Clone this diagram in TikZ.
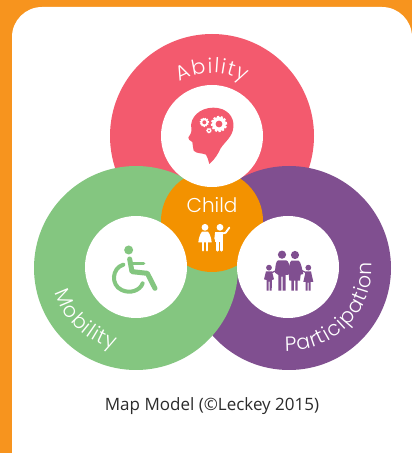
\documentclass[tikz,border=0pt]{standalone}
\usepackage{fontspec}
\usetikzlibrary{decorations.text}
\setmainfont{Open Sans}
\newfontfamily\lab[UprightFont=* Light]{Poppins}
\definecolor{frame}{HTML}{F7941E}
\definecolor{redc}{HTML}{F35A6E}
\definecolor{greenc}{HTML}{84C680}
\definecolor{purplec}{HTML}{804F90}
\definecolor{childc}{HTML}{F39200}
\definecolor{captionc}{HTML}{2B2B2B}
\tikzset{
  ringlabel/.style n args={2}{decorate,decoration={text along path,text align={fit to path},
    text={|\fontsize{#1}{#1}\lab\color{white}|#2}}},
  iconline/.style={line cap=round,line join=round},
}
\begin{document}
\begin{tikzpicture}[x=1pt,y=1pt]
\useasboundingbox (0,0) rectangle (412,453);
\fill[frame] (0,0) rectangle (412,453);
% white panel
\fill[white] (12,-5) -- (12,416) arc[start angle=180,end angle=90,radius=30pt] -- (382,446) arc[start angle=90,end angle=0,radius=30pt] -- (412,-5) -- cycle;
% rings
\fill[redc] (212,317) circle[radius=102pt];
\fill[purplec] (289,185) circle[radius=102pt];
\fill[greenc] (136,185) circle[radius=102pt];
\fill[childc] (212,232) circle[radius=51pt];
\fill[white] (212,317) circle[radius=51pt];
\fill[white] (136,186) circle[radius=51pt];
\fill[white] (288,186) circle[radius=51pt];
% ring labels
\path[ringlabel={20.5}{Ability}] (212,317) ++(121:63pt) arc[start angle=121,end angle=59,radius=63pt];
\path[ringlabel={20.5}{Mobility}] (136,186) ++(197:85pt) arc[start angle=197,end angle=255,radius=85pt];
\path[ringlabel={20.5}{Participation}] (288,186) ++(268:84pt) arc[start angle=268,end angle=363,radius=84pt];
\node[text=white,font=\fontsize{20}{20}\lab] (child) at (212,248) {Child};
% caption
\node[text=captionc,font=\fontsize{17}{18}\selectfont] (caption) at (212,47) {Map Model (©Leckey 2015)};
% head with gears
\begin{scope}[shift={(150,413)},x=0.3333pt,y=-0.3333pt]
\fill[redc] (178,372) .. controls (174,358) and (172,350) .. (168,344)
  .. controls (155,338) and (140,342) .. (131,332)
  .. controls (127,322) and (130,314) .. (127,306)
  .. controls (120,302) and (114,298) .. (115,293)
  .. controls (120,284) and (126,278) .. (124,266)
  .. controls (118,232) and (150,203) .. (190,203)
  .. controls (230,203) and (254,230) .. (250,262)
  .. controls (248,290) and (225,305) .. (212,325)
  .. controls (205,340) and (195,358) .. (178,372) -- cycle;
\draw[white,line width=2.4pt,dash pattern=on 2pt off 1.6pt] (207,252) circle[radius=7pt];
\fill[white] (207,252) circle[radius=7pt];
\fill[redc] (207,252) circle[radius=3.4pt];
\draw[white,line width=1.6pt,dash pattern=on 1.2pt off 1pt] (163,247) circle[radius=4pt];
\fill[white] (163,247) circle[radius=4pt];
\fill[redc] (163,247) circle[radius=2pt];
\draw[white,line width=1.2pt,dash pattern=on 0.8pt off 0.7pt] (177,272) circle[radius=2.2pt];
\fill[white] (177,272) circle[radius=2.2pt];
\fill[redc] (177,272) circle[radius=1pt];
\end{scope}
% child icon
\begin{scope}[shift={(160,283)},x=0.3333pt,y=-0.3333pt,white]
\fill (135,172) circle[radius=3.4pt];
\fill (180,172) circle[radius=3.4pt];
\fill (126,185) -- (144,185) .. controls (150,192) and (154,205) .. (155,217) -- (115,217) .. controls (116,205) and (120,192) .. (126,185) -- cycle;
\draw[line width=2.4pt,line cap=round] (129,215) -- (129,241) (141,215) -- (141,241);
\fill (166,186) -- (190,186) -- (190,215) -- (166,215) -- cycle;
\draw[line width=2.4pt,line cap=round] (172,212) -- (172,241) (185,212) -- (185,241);
\draw[line width=1.9pt,line cap=round,line join=round] (190,190) -- (197,188) -- (208,173);
\draw[line width=2pt,line cap=round] (168,190) -- (166,207);
\end{scope}
% wheelchair icon
\begin{scope}[shift={(40,233)},x=0.3333pt,y=-0.3333pt,greenc]
\fill (266,90) circle[radius=4.5pt];
\draw[iconline,line width=5pt] (269,117) -- (276,155) -- (322,160) -- (345,205);
\draw[iconline,line width=3.4pt] (280,131) -- (311,131);
\draw[line width=4pt,line cap=round] (250,134) .. controls (215,145) and (212,195) .. (245,210) .. controls (270,222) and (300,212) .. (308,190);
\end{scope}
% family icon
\begin{scope}[shift={(250,223)},x=0.3333pt,y=-0.3333pt,purplec]
\fill (57,113) circle[radius=2.9pt];
\fill (175,113) circle[radius=2.9pt];
\fill (96,74) circle[radius=4.1pt];
\fill (135,75) circle[radius=4.1pt];
% father
\fill (84,91) -- (108,91) .. controls (116,92) and (118,104) .. (121,125) -- (114,135) -- (107,135) -- (107,182) -- (98,182) -- (98,140) -- (94,140) -- (94,182) -- (85,182) -- (85,135) -- (75,128) .. controls (76,105) and (78,94) .. (84,91) -- cycle;
% mother
\fill (124,92) -- (146,92) .. controls (154,96) and (156,120) .. (160,132) -- (152,134) -- (150,152) -- (143,152) -- (143,182) -- (136,182) -- (136,152) -- (132,152) -- (132,182) -- (124,182) -- (124,152) -- (118,152) -- (116,132) .. controls (116,115) and (118,96) .. (124,92) -- cycle;
% left child
\fill (48,124) -- (66,124) -- (72,148) -- (66,150) -- (65,182) -- (59,182) -- (59,155) -- (56,155) -- (56,182) -- (50,182) -- (50,150) -- (42,148) -- cycle;
% right child
\fill (167,124) -- (183,124) -- (190,156) -- (182,156) -- (182,182) -- (176,182) -- (176,158) -- (173,158) -- (173,182) -- (167,182) -- (167,156) -- (160,156) -- cycle;
\draw[line width=1.2pt,line cap=round] (66,128) -- (78,122);
\draw[line width=1.2pt,line cap=round] (168,128) -- (156,122);
\end{scope}
\end{tikzpicture}
\end{document}
